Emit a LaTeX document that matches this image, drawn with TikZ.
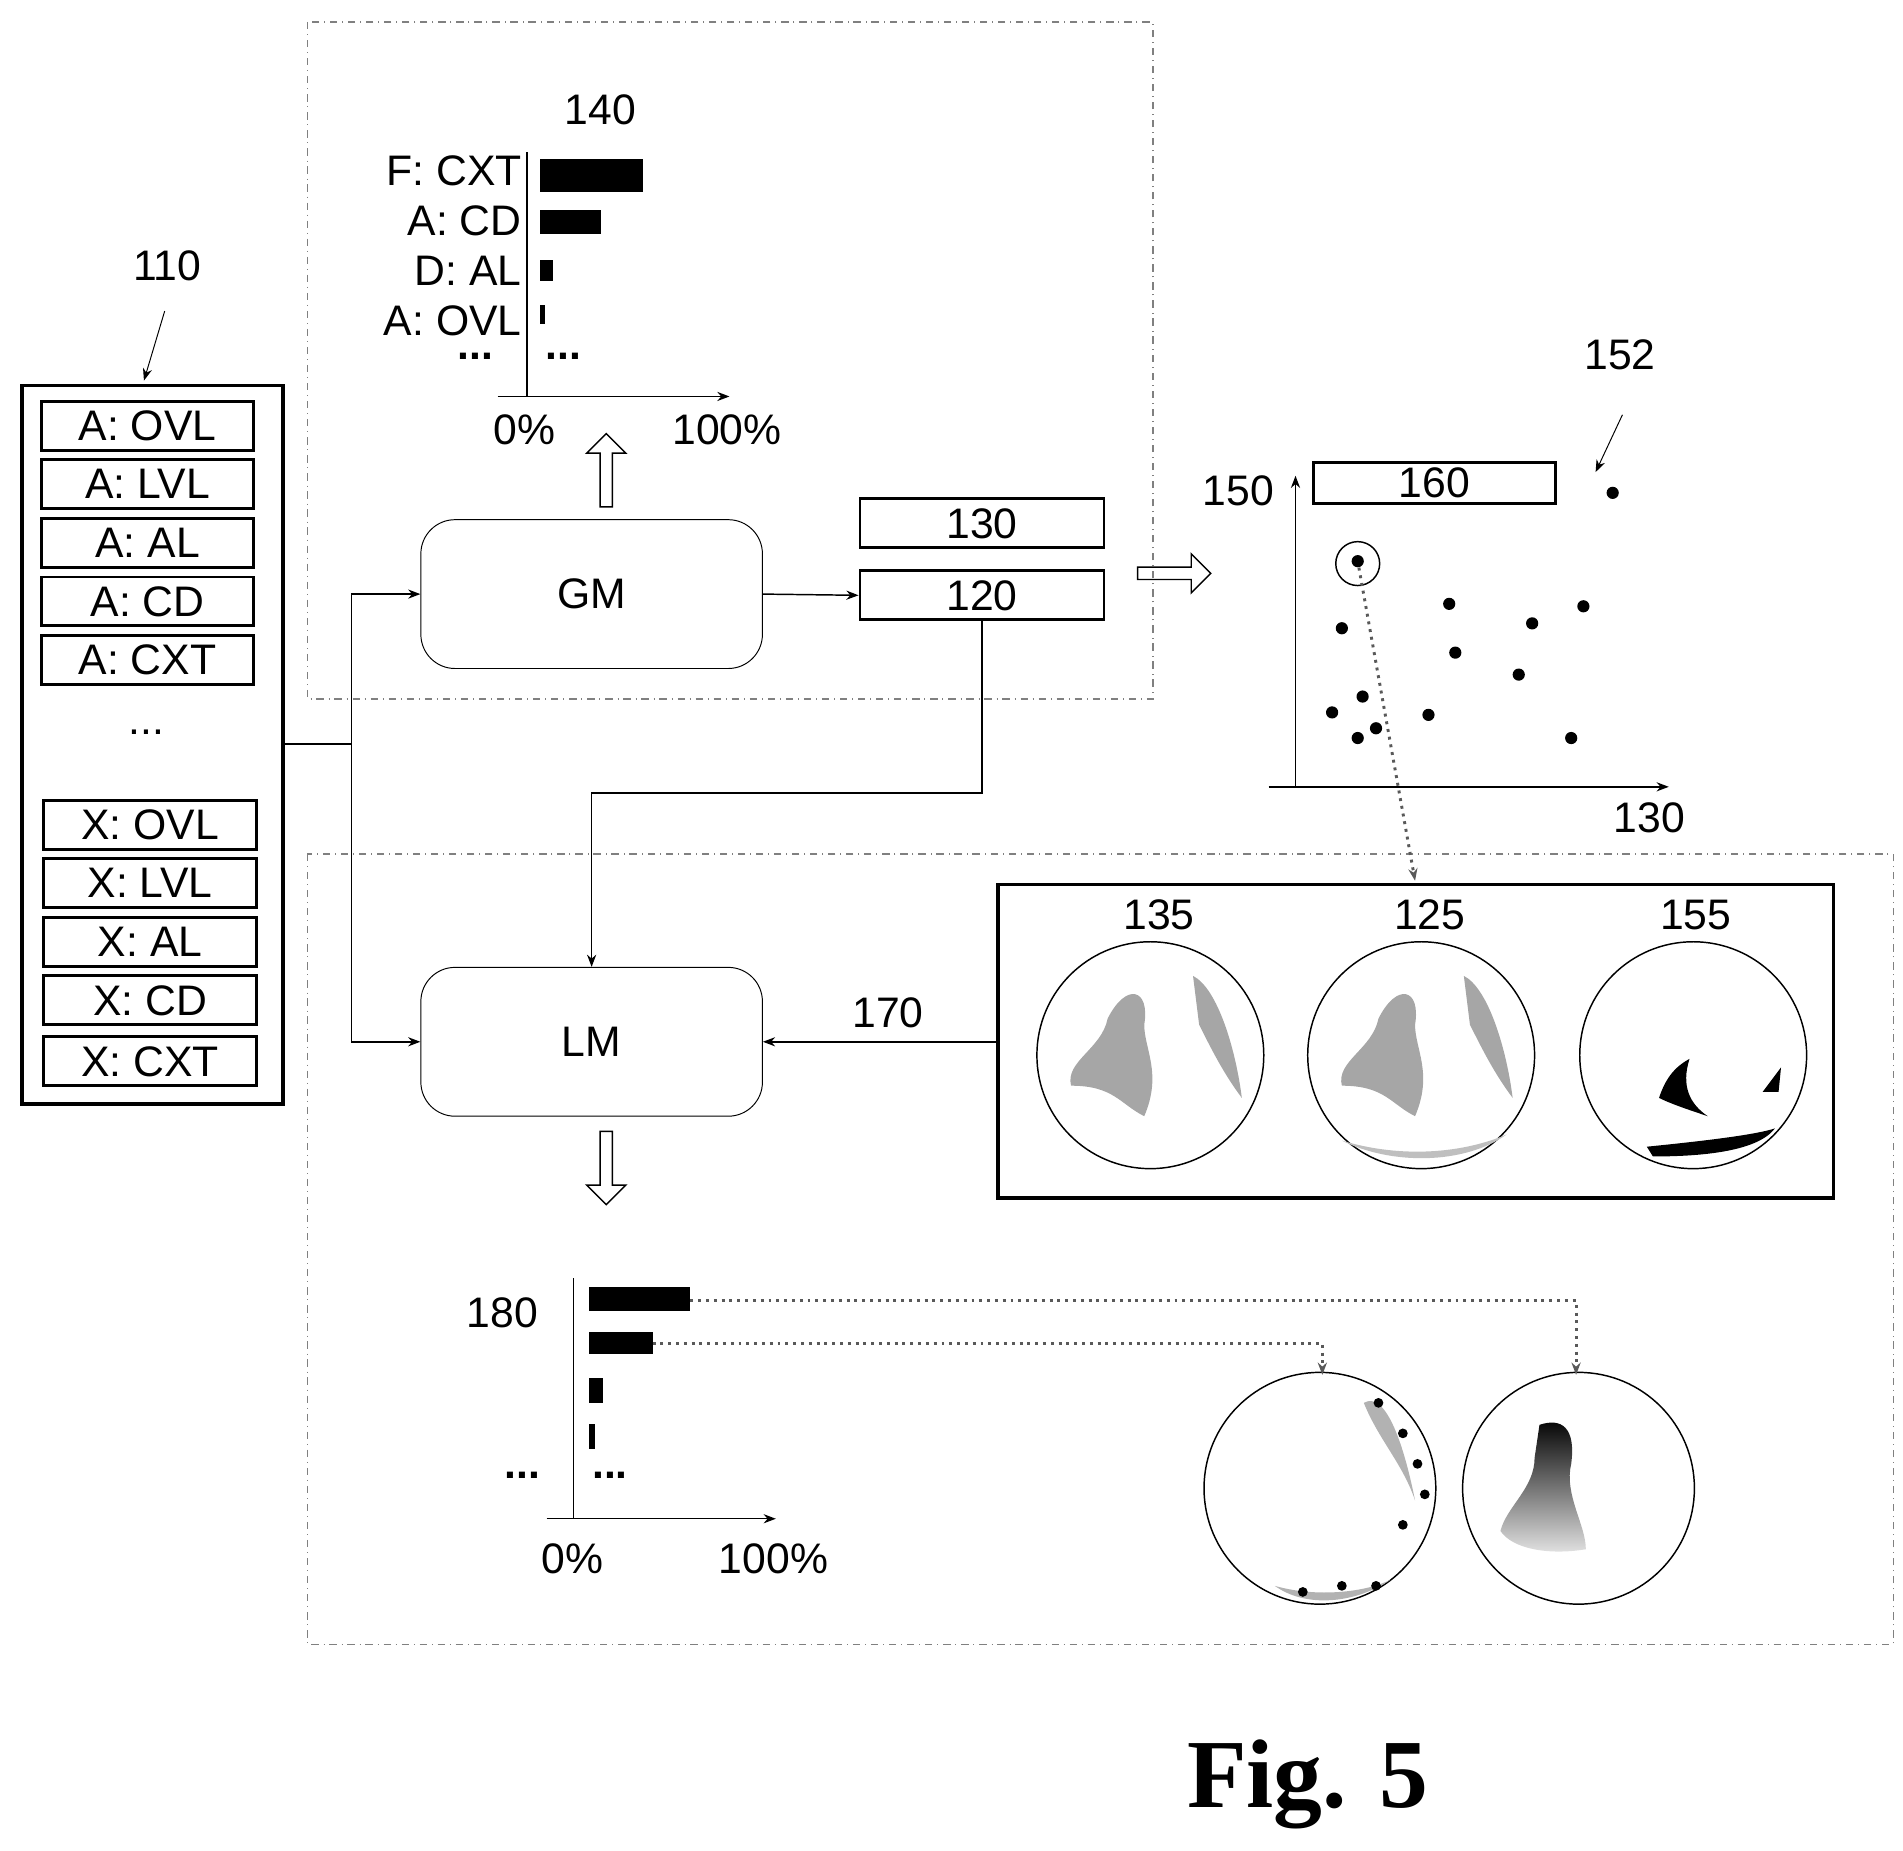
\documentclass[tikz,border=0pt]{standalone}
\usepackage{fontspec}
\setmainfont{Liberation Sans}
\newfontfamily\figfont{Liberation Serif}
\usetikzlibrary{arrows.meta,shapes.arrows}
\begin{document}
\begin{tikzpicture}[x=0.5pt,y=-0.5pt,font=\fontsize{17.5}{21}\selectfont,
  lbl/.style={inner sep=0pt},
  item/.style={draw,line width=1.2pt,minimum width=87pt,minimum height=20pt,inner sep=0pt},
  mod/.style={draw,rounded corners=14pt,minimum width=140pt,minimum height=61pt},
  conn/.style={draw,-{Stealth[length=5pt]},line width=0.6pt},
  dd/.style={dash dot,line width=0.6pt,gray},
  dot/.style={circle,fill,inner sep=0pt,minimum size=5pt},
  dotted arrow/.style={dotted,line width=1.2pt,gray!70!black,-{Stealth[length=5pt]}},
  hollow/.style={single arrow,draw,line width=0.6pt,minimum height=30pt,single arrow head extend=5pt,minimum width=16pt,inner sep=2pt}]
\useasboundingbox (0,0) rectangle (1560,1517);
% dash-dot frames
\draw[dd] (252,18) rectangle (945,573);
\draw[dd] (252,700) rectangle (1552,1348);
% left list
\node[lbl] (l110) at (137,218) {110};
\coordinate (a110) at (118,312);
\draw[-{Stealth[length=5pt]}] (135,255) -- (a110);
\node[draw,line width=1.5pt,minimum width=107pt,minimum height=294.5pt,inner sep=0pt] (list) at (125,610.5) {};
\foreach \t/\y in {A: OVL/349,A: LVL/397,A: AL/445,A: CD/493,A: CXT/541}
  \node[item] at (121,\y) {\t};
\foreach \t/\y in {X: OVL/676,X: LVL/724,X: AL/772,X: CD/820,X: CXT/870}
  \node[item] at (123,\y) {\t};
\node[lbl] at (120,600) {...};
% modules
\node[mod] (gm) at (485,487) {GM};
\node[mod] (lm) at (485,854) {LM};
\node[draw,line width=1.2pt,minimum width=100pt,minimum height=20pt,inner sep=0pt] (b130) at (805,429) {130};
\node[draw,line width=1.2pt,minimum width=100pt,minimum height=20pt,inner sep=0pt] (b120) at (805,488) {120};
\coordinate (j) at (288,610);
\draw[line width=0.6pt] (list.east |- j) -- (j);
\draw[conn] (j) |- (gm.west);
\draw[conn] (j) |- (lm.west);
\draw[conn] (gm.east) -- (b120.west);
\draw[conn] (b120.south) |- (485,650) -- (lm.north);
\node[hollow,rotate=90] (up) at (497,388) {};
\node[hollow,rotate=-90] (dn) at (497,955) {};
\node[hollow] (rt) at (960,470) {};
% chart 140
\node[lbl] at (492,90) {140};
\draw[line width=0.6pt] (432,125) -- (432,325);
\draw[line width=0.6pt,-{Stealth[length=5pt]}] (408,325) -- (598,325);
\foreach \t/\y in {F: CXT/140,A: CD/181,D: AL/222,A: OVL/263}
  \node[lbl,anchor=east] at (428,\y) {\t};
\node[lbl] at (390,292) {\textbf{...}};
\node[lbl] at (462,292) {\textbf{...}};
\fill (443,130) rectangle (527,157);
\fill (443,172) rectangle (493,192);
\fill (443,213) rectangle (453,230);
\fill (443,250) rectangle (447,266);
\node[lbl] at (430,352) {0\%};
\node[lbl] at (596,352) {100\%};
% scatter
\draw[line width=0.6pt,-{Stealth[length=5pt]}] (1062,645) -- (1062,390);
\draw[line width=0.6pt,-{Stealth[length=5pt]}] (1040,645) -- (1368,645);
\node[lbl] at (1015,402) {150};
\node[draw,line width=1.2pt,minimum width=99pt,minimum height=17pt,inner sep=0pt] (b160) at (1176,396) {160};
\node[lbl] at (1328,291) {152};
\node[dot] (p152) at (1322,404) {};
\draw[-{Stealth[length=5pt]}] (1330,340) -- (1308,387);
\node[dot] (sel) at (1113,460) {};
\draw[line width=0.6pt] (1113,462) circle[radius=18];
\foreach \x/\y in {1100/515,1188/495,1256/511,1298/497,1193/535,1245/553,1092/584,1117/571,1171/586,1128/597,1113/605,1288/605}
  \node[dot] at (\x,\y) {};
\node[lbl] at (1352,670) {130};
% images
\node[draw,line width=1.5pt,minimum width=342.5pt,minimum height=128.5pt,inner sep=0pt] (imgs) at (1160.5,853.5) {};
\coordinate (i125) at (1160,722);
\draw[dotted arrow] (sel) -- (i125);
\node[lbl] at (950,750) {135};
\node[lbl] at (1172,750) {125};
\node[lbl] at (1390,750) {155};
\draw[line width=0.6pt] (943,865) circle[radius=93];
\draw[line width=0.6pt] (1165,865) circle[radius=93];
\draw[line width=0.6pt] (1388,865) circle[radius=93];
\foreach \c in {943,1165} {
  \begin{scope}[shift={(\c,0)}]
  \fill[gray!70] (-35,835) .. controls (-20,805) and (0,810) .. (-5,840) .. controls (-5,860) and (10,880) .. (-5,915) .. controls (-25,905) and (-30,890) .. (-65,890) .. controls (-70,870) and (-40,860) .. (-35,835) -- cycle;
  \fill[gray!70] (35,800) .. controls (55,810) and (70,860) .. (75,900) .. controls (60,880) and (50,860) .. (40,840) -- cycle;
  \end{scope}
}
\fill[gray!50] (1100,935) .. controls (1150,950) and (1200,945) .. (1235,930) .. controls (1200,955) and (1140,955) .. (1100,935) -- cycle;
\fill (1360,900) .. controls (1365,885) and (1372,875) .. (1385,868) .. controls (1378,890) and (1385,905) .. (1400,915) .. controls (1385,910) and (1370,905) .. (1360,900) -- cycle;
\fill (1350,940) .. controls (1400,935) and (1440,930) .. (1455,925) .. controls (1440,945) and (1390,948) .. (1355,948) -- cycle;
\fill (1445,895) -- (1460,875) -- (1458,895) -- cycle;
\node[lbl] at (728,830) {170};
\draw[conn] (imgs.west |- lm.east) -- (lm.east);
% chart 180
\node[lbl] at (412,1076) {180};
\draw[line width=0.6pt] (470,1048) -- (470,1245);
\draw[line width=0.6pt,-{Stealth[length=5pt]}] (448,1245) -- (636,1245);
\fill (483,1055) rectangle (566,1075);
\fill (483,1092) rectangle (535,1110);
\fill (483,1130) rectangle (494,1150);
\fill (483,1167) rectangle (488,1188);
\node[lbl] at (428,1209) {\textbf{...}};
\node[lbl] at (500,1209) {\textbf{...}};
\node[lbl] at (469,1278) {0\%};
\node[lbl] at (634,1278) {100\%};
% bottom circles
\coordinate (c1) at (1082,1220);
\coordinate (c2) at (1294,1220);
\draw[line width=0.6pt] (c1) circle[radius=95];
\draw[line width=0.6pt] (c2) circle[radius=95];
\coordinate (t1) at (1084,1127);
\coordinate (t2) at (1292,1127);
\draw[dotted arrow] (566,1066) -| (t2);
\draw[dotted arrow] (535,1101) -| (t1);
\fill[gray!60] (1118,1150) .. controls (1135,1140) and (1150,1180) .. (1160,1230) .. controls (1150,1200) and (1130,1180) .. (1118,1150) -- cycle;
\fill[gray!60] (1045,1300) .. controls (1080,1310) and (1120,1305) .. (1140,1295) .. controls (1110,1315) and (1070,1318) .. (1045,1300) -- cycle;
\foreach \x/\y in {1130/1150,1150/1175,1162/1200,1168/1225,1150/1250,1128/1300,1100/1300,1068/1305}
  \node[dot,minimum size=4pt] at (\x,\y) {};
\shade[top color=black,bottom color=gray!20] (1262,1168) .. controls (1280,1162) and (1292,1170) .. (1288,1200) .. controls (1282,1225) and (1300,1250) .. (1300,1270) .. controls (1270,1275) and (1240,1270) .. (1230,1255) .. controls (1235,1235) and (1258,1220) .. (1258,1195) -- cycle;
% caption
\node[lbl,font=\figfont\bfseries\fontsize{40}{46}\selectfont] at (1072,1463) {Fig. 5};
\end{tikzpicture}
\end{document}
